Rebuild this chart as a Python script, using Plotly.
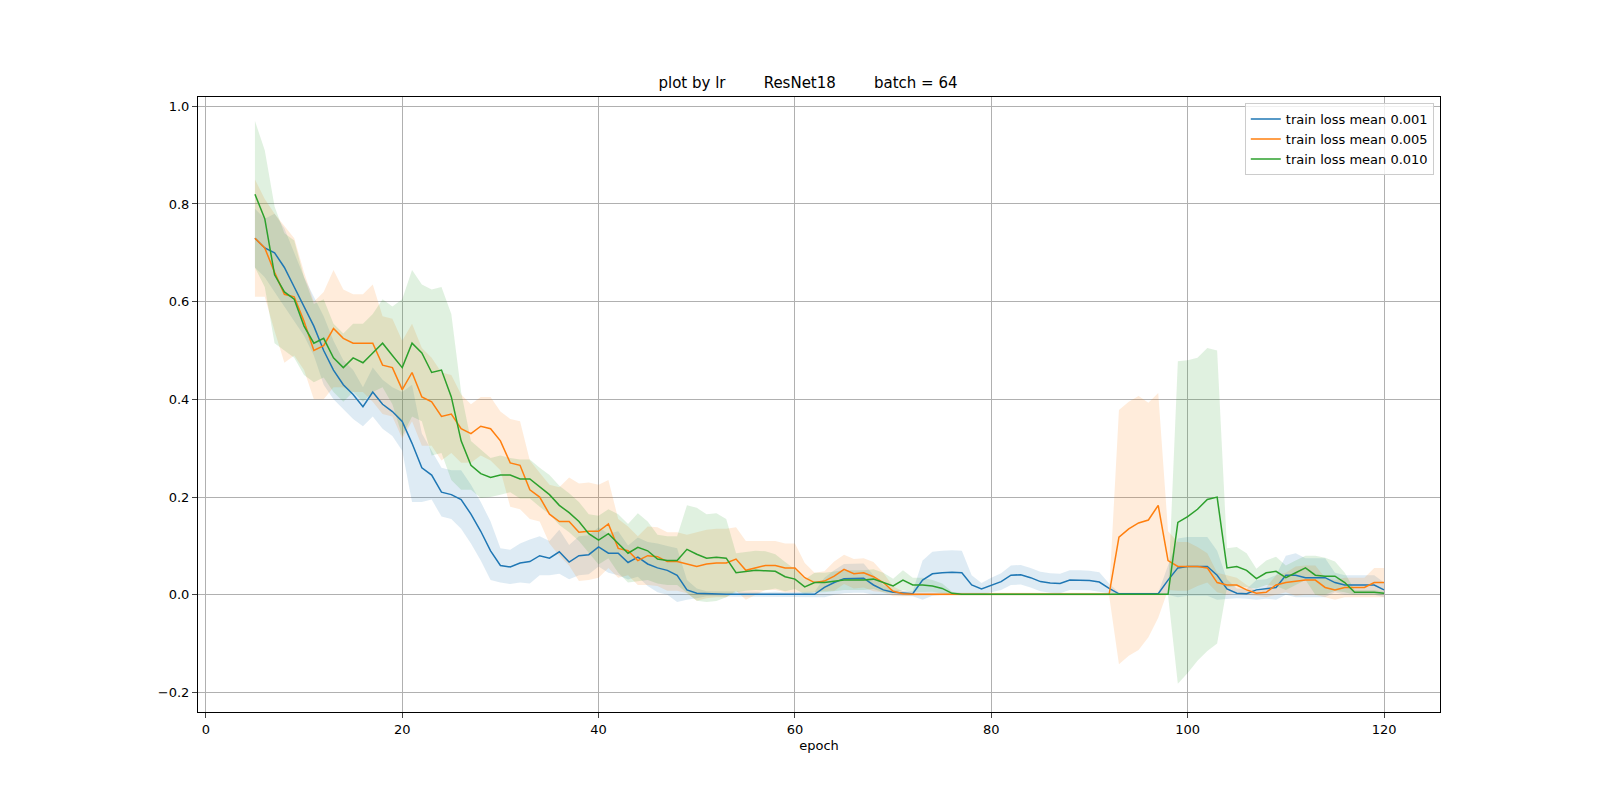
import plotly.graph_objects as go

epochs = list(range(5, 121))

mean_001 = [0.73,0.71,0.70,0.67,0.63,0.59,0.55,0.50,0.46,0.43,0.41,0.385,0.415,0.39,0.375,0.355,0.31,0.26,0.245,0.21,
            0.205,0.195,0.165,0.13,0.09,0.06,0.057,0.065,0.068,0.08,0.075,0.088,0.067,0.08,0.082,0.098,0.085,0.085,0.066,0.077,
            0.063,0.055,0.05,0.04,0.01,0.003,0.002,0.002,0.001,0.001,0.001,0.001,0.0,0.001,0.0,0.0,0.0,0.001,0.015,0.025,
            0.033,0.034,0.034,0.02,0.01,0.005,0.003,0.002,0.03,0.043,0.045,0.046,0.045,0.02,0.012,0.02,0.027,0.04,0.041,0.035,
            0.027,0.024,0.023,0.03,0.03,0.029,0.026,0.013,0.002,0.002,0.002,0.002,0.002,0.03,0.055,0.058,0.058,0.058,0.04,0.012,
            0.003,0.002,0.01,0.012,0.015,0.04,0.04,0.035,0.035,0.035,0.025,0.02,0.02,0.02,0.02,0.01]
std_001 = [0.06,0.06,0.08,0.08,0.07,0.06,0.06,0.07,0.06,0.05,0.05,0.04,0.05,0.05,0.05,0.06,0.12,0.07,0.05,0.05,
           0.05,0.06,0.06,0.06,0.06,0.035,0.035,0.04,0.045,0.04,0.035,0.045,0.035,0.04,0.04,0.04,0.04,0.045,0.035,0.04,
           0.045,0.05,0.05,0.055,0.02,0.01,0.005,0.005,0.005,0.005,0.005,0.005,0.005,0.005,0.005,0.005,0.005,0.005,0.02,0.025,
           0.03,0.03,0.03,0.02,0.01,0.005,0.005,0.005,0.04,0.045,0.045,0.045,0.045,0.02,0.012,0.015,0.017,0.02,0.02,0.02,
           0.02,0.02,0.02,0.02,0.02,0.02,0.02,0.01,0.002,0.002,0.002,0.002,0.002,0.03,0.06,0.06,0.06,0.06,0.05,0.02,
           0.01,0.01,0.02,0.02,0.025,0.04,0.045,0.04,0.04,0.04,0.02,0.02,0.02,0.02,0.02,0.015]

mean_005 = [0.73,0.71,0.66,0.615,0.61,0.56,0.50,0.51,0.545,0.525,0.515,0.515,0.515,0.47,0.465,0.42,0.455,0.405,0.395,0.365,
            0.37,0.34,0.33,0.345,0.34,0.315,0.27,0.265,0.215,0.2,0.165,0.15,0.15,0.128,0.13,0.13,0.145,0.095,0.09,0.07,
            0.08,0.078,0.068,0.068,0.063,0.058,0.063,0.065,0.065,0.073,0.05,0.055,0.06,0.06,0.055,0.055,0.035,0.025,0.028,0.038,
            0.052,0.043,0.045,0.037,0.025,0.007,0.002,0.001,0.001,0.001,0.001,0.001,0.001,0.001,0.001,0.001,0.001,0.001,0.001,0.001,
            0.001,0.001,0.001,0.001,0.001,0.001,0.001,0.001,0.118,0.135,0.147,0.153,0.183,0.07,0.058,0.058,0.058,0.055,0.025,0.02,
            0.02,0.01,0.003,0.005,0.02,0.025,0.028,0.03,0.03,0.015,0.01,0.015,0.015,0.015,0.025,0.025,0.018][:116]
std_005 = [0.12,0.1,0.12,0.14,0.12,0.1,0.1,0.11,0.12,0.1,0.1,0.1,0.12,0.1,0.1,0.1,0.1,0.1,0.09,0.09,
           0.08,0.07,0.06,0.06,0.065,0.06,0.09,0.09,0.06,0.05,0.06,0.07,0.09,0.1,0.1,0.095,0.09,0.06,0.05,0.05,
           0.06,0.06,0.06,0.06,0.06,0.07,0.07,0.07,0.07,0.065,0.06,0.055,0.05,0.05,0.05,0.05,0.03,0.02,0.02,0.03,
           0.03,0.03,0.03,0.03,0.02,0.01,0.005,0.003,0.003,0.003,0.003,0.003,0.003,0.003,0.003,0.003,0.003,0.003,0.003,0.003,
           0.003,0.003,0.003,0.003,0.003,0.003,0.003,0.003,0.26,0.26,0.26,0.24,0.23,0.06,0.05,0.05,0.04,0.03,0.02,0.02,
           0.015,0.01,0.005,0.01,0.02,0.02,0.03,0.03,0.03,0.02,0.02,0.02,0.02,0.02,0.03,0.03,0.03][:116]

mean_010 = [0.82,0.77,0.655,0.62,0.605,0.55,0.515,0.525,0.485,0.465,0.485,0.475,0.495,0.515,0.49,0.465,0.515,0.495,0.455,0.46,
            0.405,0.315,0.265,0.248,0.24,0.245,0.245,0.237,0.237,0.22,0.205,0.183,0.168,0.15,0.125,0.112,0.125,0.105,0.085,0.097,
            0.09,0.073,0.07,0.07,0.093,0.083,0.075,0.077,0.075,0.045,0.048,0.05,0.049,0.048,0.037,0.032,0.016,0.025,0.025,0.028,
            0.03,0.03,0.03,0.032,0.025,0.018,0.03,0.02,0.02,0.018,0.013,0.003,0.001,0.001,0.001,0.001,0.001,0.001,0.001,0.001,
            0.001,0.001,0.001,0.001,0.001,0.001,0.001,0.001,0.001,0.001,0.001,0.001,0.001,0.001,0.148,0.16,0.175,0.195,0.2,0.055,
            0.058,0.05,0.033,0.045,0.048,0.035,0.045,0.055,0.04,0.038,0.038,0.025,0.005,0.005,0.005,0.003]
std_010 = [0.15,0.14,0.14,0.12,0.12,0.1,0.08,0.08,0.07,0.07,0.07,0.08,0.08,0.09,0.1,0.14,0.15,0.14,0.17,0.17,
           0.17,0.1,0.05,0.05,0.04,0.04,0.035,0.04,0.04,0.04,0.04,0.04,0.04,0.04,0.04,0.05,0.05,0.06,0.06,0.07,
           0.06,0.05,0.05,0.05,0.09,0.095,0.09,0.09,0.08,0.04,0.04,0.04,0.04,0.035,0.03,0.02,0.015,0.02,0.02,0.02,
           0.02,0.02,0.02,0.02,0.02,0.015,0.02,0.015,0.015,0.012,0.01,0.003,0.002,0.002,0.002,0.002,0.002,0.002,0.002,0.002,
           0.002,0.002,0.002,0.002,0.002,0.002,0.002,0.002,0.002,0.002,0.002,0.002,0.002,0.002,0.33,0.32,0.31,0.31,0.3,0.04,
           0.04,0.035,0.02,0.025,0.03,0.025,0.025,0.025,0.04,0.038,0.03,0.02,0.005,0.005,0.005,0.003]

series = [("train loss mean 0.001", mean_001, std_001, "#1f77b4", "rgba(31,119,180,0.15)"),
          ("train loss mean 0.005", mean_005, std_005, "#ff7f0e", "rgba(255,127,14,0.15)"),
          ("train loss mean 0.010", mean_010, std_010, "#2ca02c", "rgba(44,160,44,0.15)")]

fig = go.Figure()
for name, m, s, col, fcol in series:
    up = [a + b for a, b in zip(m, s)]
    lo = [a - b for a, b in zip(m, s)]
    fig.add_trace(go.Scatter(x=epochs, y=up, mode="lines", line=dict(width=0), showlegend=False, hoverinfo="skip"))
    fig.add_trace(go.Scatter(x=epochs, y=lo, mode="lines", line=dict(width=0), fill="tonexty",
                             fillcolor=fcol, showlegend=False, hoverinfo="skip"))
for name, m, s, col, fcol in series:
    fig.add_trace(go.Scatter(x=epochs, y=m, mode="lines", name=name, line=dict(color=col, width=1.5)))

sp = "\u00a0" * 8
fig.update_layout(
    width=1600, height=800, plot_bgcolor="white", paper_bgcolor="white",
    margin=dict(l=190, r=168, t=89, b=96),
    font=dict(family="DejaVu Sans", size=13, color="black"),
    title=dict(text=f"plot by lr{sp}ResNet18{sp}batch = 64", x=0.5, xanchor="center", y=0.9, yanchor="bottom",
               font=dict(size=15)),
    legend=dict(x=0.995, y=0.99, xanchor="right", yanchor="top", bordercolor="#cccccc", borderwidth=1,
                bgcolor="rgba(255,255,255,0.8)", traceorder="normal"),
)
fig.update_xaxes(range=[-0.8, 125.7], tickvals=[0, 20, 40, 60, 80, 100, 120], showgrid=True, gridcolor="#b0b0b0",
                 showline=True, linecolor="black", mirror=True, ticks="outside", zeroline=False,
                 title=dict(text="epoch", standoff=5, font=dict(size=13)))
fig.update_yaxes(range=[-0.24, 1.019], tickvals=[-0.2, 0, 0.2, 0.4, 0.6, 0.8, 1.0],
                 ticktext=["\u22120.2", "0.0", "0.2", "0.4", "0.6", "0.8", "1.0"], showgrid=True, gridcolor="#b0b0b0",
                 showline=True, linecolor="black", mirror=True, ticks="outside", zeroline=False)
fig.write_html("out.html")
